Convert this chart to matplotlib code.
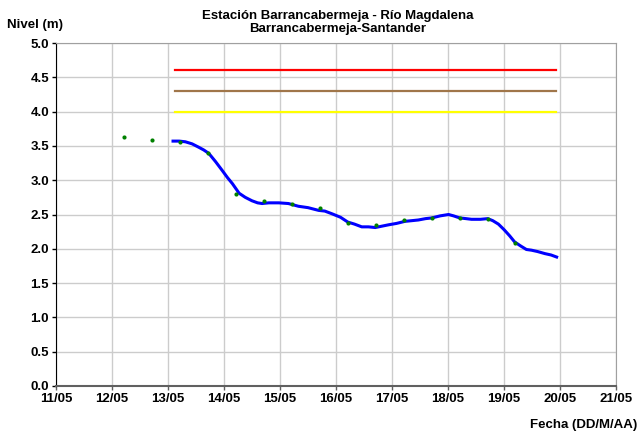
import matplotlib

matplotlib.use("Agg")
import matplotlib.pyplot as plt

# days of May (fractional)
obs_day = [12.22, 12.72, 13.21, 13.71, 14.22, 14.71, 15.21, 15.72, 16.21,
           16.71, 17.22, 17.71, 18.21, 18.71, 19.20]
obs_level = [3.63, 3.59, 3.56, 3.40, 2.80, 2.69, 2.65, 2.60, 2.38,
             2.35, 2.42, 2.45, 2.45, 2.44, 2.09]

series_day = [13.09, 13.20, 13.31, 13.43, 13.55, 13.64, 13.73, 13.85, 13.97,
              14.06, 14.15, 14.27, 14.38, 14.50, 14.60, 14.68, 14.80, 14.98,
              15.15, 15.33, 15.50, 15.69, 15.80, 15.93, 16.08, 16.21, 16.33,
              16.46, 16.58, 16.70, 16.82, 16.94, 17.08, 17.23, 17.35, 17.47,
              17.60, 17.71, 17.86, 18.01, 18.10, 18.21, 18.32, 18.42, 18.58,
              18.71, 18.80, 18.90, 19.00, 19.10, 19.19, 19.30, 19.40, 19.49,
              19.60, 19.73, 19.84, 19.94]
series_level = [3.57, 3.57, 3.56, 3.53, 3.48, 3.44, 3.39, 3.27, 3.14,
                3.04, 2.95, 2.81, 2.75, 2.70, 2.67, 2.66, 2.67, 2.67,
                2.66, 2.62, 2.60, 2.56, 2.55, 2.51, 2.46, 2.39, 2.36,
                2.32, 2.32, 2.31, 2.33, 2.35, 2.37, 2.40, 2.41, 2.42,
                2.44, 2.45, 2.48, 2.50, 2.48, 2.45, 2.44, 2.43, 2.43,
                2.44, 2.41, 2.36, 2.28, 2.19, 2.10, 2.04, 1.99, 1.98,
                1.96, 1.93, 1.91, 1.88]

limit_start = 13.12
limit_end = 19.92
limit_levels = [4.6, 4.3, 4.0]
limit_colors = ["#ff0000", "#a0764a", "#ffff00"]

x_ticks = list(range(11, 22))
x_labels = [f"{d}/05" for d in x_ticks]
y_ticks = [0.0, 0.5, 1.0, 1.5, 2.0, 2.5, 3.0, 3.5, 4.0, 4.5, 5.0]

plt.rcParams["font.family"] = ["Liberation Sans", "DejaVu Sans"]
plt.rcParams["font.weight"] = "bold"
FS = 9.5

fig = plt.figure(figsize=(6.4, 4.34), dpi=100)
ax = fig.add_axes([0.0875, 0.1106, 0.875, 0.7903])

for level, color in zip(limit_levels, limit_colors):
    ax.plot([limit_start, limit_end], [level, level], color=color, linewidth=1.6, zorder=3)

ax.plot(series_day, series_level, color="#0000ff", linewidth=2.2, zorder=4)
ax.scatter(obs_day, obs_level, s=9, color="#008000", zorder=5, linewidths=0)

ax.set_xlim(11, 21)
ax.set_ylim(0, 5)
ax.set_xticks(x_ticks)
ax.set_xticklabels(x_labels, fontsize=FS, fontweight="bold")
ax.set_yticks(y_ticks)
ax.set_yticklabels([f"{v:.1f}" for v in y_ticks], fontsize=FS, fontweight="bold")
ax.grid(True, color="#cccccc", linewidth=1)
ax.set_axisbelow(True)
ax.tick_params(direction="out", length=3, width=1, pad=2)
ax.tick_params(axis="x", colors="#606060", labelcolor="black")

ax.spines["left"].set_color("black")
ax.spines["bottom"].set_color("#606060")
ax.spines["bottom"].set_linewidth(1.5)
ax.spines["top"].set_color("#a0a0a0")
ax.spines["right"].set_color("#a0a0a0")

fig.text(0.527, 0.948, "Estación Barrancabermeja - Río Magdalena\nBarrancabermeja-Santander",
         ha="center", va="center", fontsize=FS, fontweight="bold", linespacing=1.1)
fig.text(0.011, 0.942, "Nivel (m)", ha="left", va="center", fontsize=FS, fontweight="bold")
fig.text(0.995, 0.021, "Fecha (DD/M/AA)", ha="right", va="center", fontsize=FS, fontweight="bold")

fig.savefig("out.png", dpi=100)
